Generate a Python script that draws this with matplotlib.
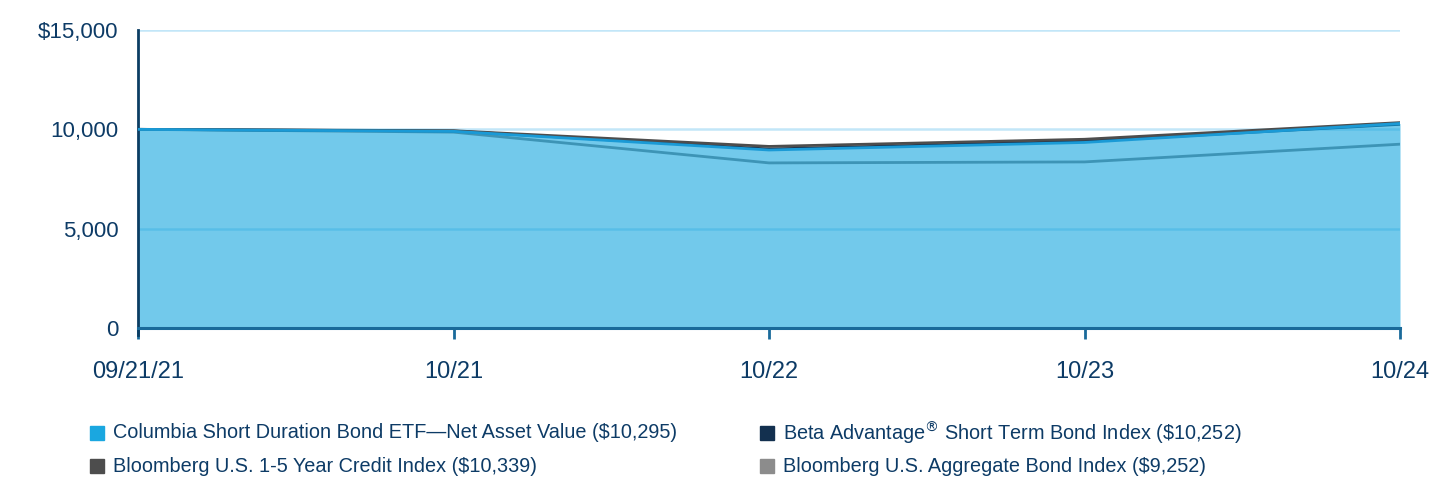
import matplotlib
matplotlib.use('Agg')
import matplotlib.pyplot as plt
from matplotlib.patches import Rectangle

plt.rcParams['font.family'] = ['Liberation Sans', 'DejaVu Sans']

# growth of $10,000
dates = ['09/21/21', '10/21', '10/22', '10/23', '10/24']
fund = [10000, 9900, 8960, 9340, 10295]
beta = [10000, 9915, 9010, 9400, 10252]
credit = [10000, 9930, 9140, 9500, 10339]
aggregate = [10000, 9860, 8310, 8360, 9252]

yticks = [0, 5000, 10000, 15000]
ylabels = ['0', '5,000', '10,000', '$15,000']

legend_labels = ['Columbia Short Duration Bond ETF\u2014Net Asset Value (\\$10,295)',
                 'Beta Advantage$^{\\circledR}$ Short Term Bond Index (\\$10,252)',
                 'Bloomberg U.S. 1-5 Year Credit Index (\\$10,339)',
                 'Bloomberg U.S. Aggregate Bond Index (\\$9,252)']
legend_colors = ['#1aa7e0', '#13304f', '#4d4d4d', '#8c8c8c']

txt = '#0d3b66'

fig = plt.figure(figsize=(14.52, 4.8), dpi=100)
ax = fig.add_axes([138/1452, 1-328/480, (1400-138)/1452, 298/480])

x = list(range(len(dates)))

for v in yticks[1:]:
    ax.axhline(v, color='#c2e6f8', lw=1.8, zorder=0)

ax.plot(x, aggregate, color='#7f7f7f', lw=2, zorder=1)
ax.plot(x, beta, color='#13304f', lw=2, zorder=1)
ax.plot(x, credit, color='#4d4d4d', lw=2, zorder=1)
ax.fill_between(x, 0, fund, color='#0fa3dd', alpha=0.59, lw=0, zorder=2)
ax.plot(x, fund, color='#1a9ad6', lw=2, zorder=3)

ax.set_xlim(0, 4)
ax.set_ylim(0, 15000)
ax.set_xticks(x)
ax.set_xticklabels(dates)
ax.set_yticks(yticks)
ax.set_yticklabels(ylabels)

for s in ['top', 'right']:
    ax.spines[s].set_visible(False)
ax.spines['left'].set_color('#0b3d63')
ax.spines['left'].set_linewidth(2)
ax.spines['left'].set_bounds(-350, 15000)
ax.spines['bottom'].set_color('#1a6a9a')
ax.spines['bottom'].set_linewidth(2.2)
ax.spines['bottom'].set_zorder(4)

ax.tick_params(axis='x', direction='out', length=8, width=2, color='#1a6a9a',
               labelsize=17, labelcolor=txt, pad=16)
ax.tick_params(axis='y', length=0, labelsize=16, labelcolor=txt, pad=14)

# legend drawn by hand
pos = [(90, 433), (760, 433), (90, 466), (760, 466)]
for (px, py), lab, col in zip(pos, legend_labels, legend_colors):
    fig.patches.append(Rectangle((px/1452, 1-(py+7)/480), 14/1452, 14/480,
                                 transform=fig.transFigure, color=col))
    fig.text((px+23)/1452, 1-py/480, lab, fontsize=14.3, color=txt, va='center')

fig.savefig('out.png', dpi=100)
